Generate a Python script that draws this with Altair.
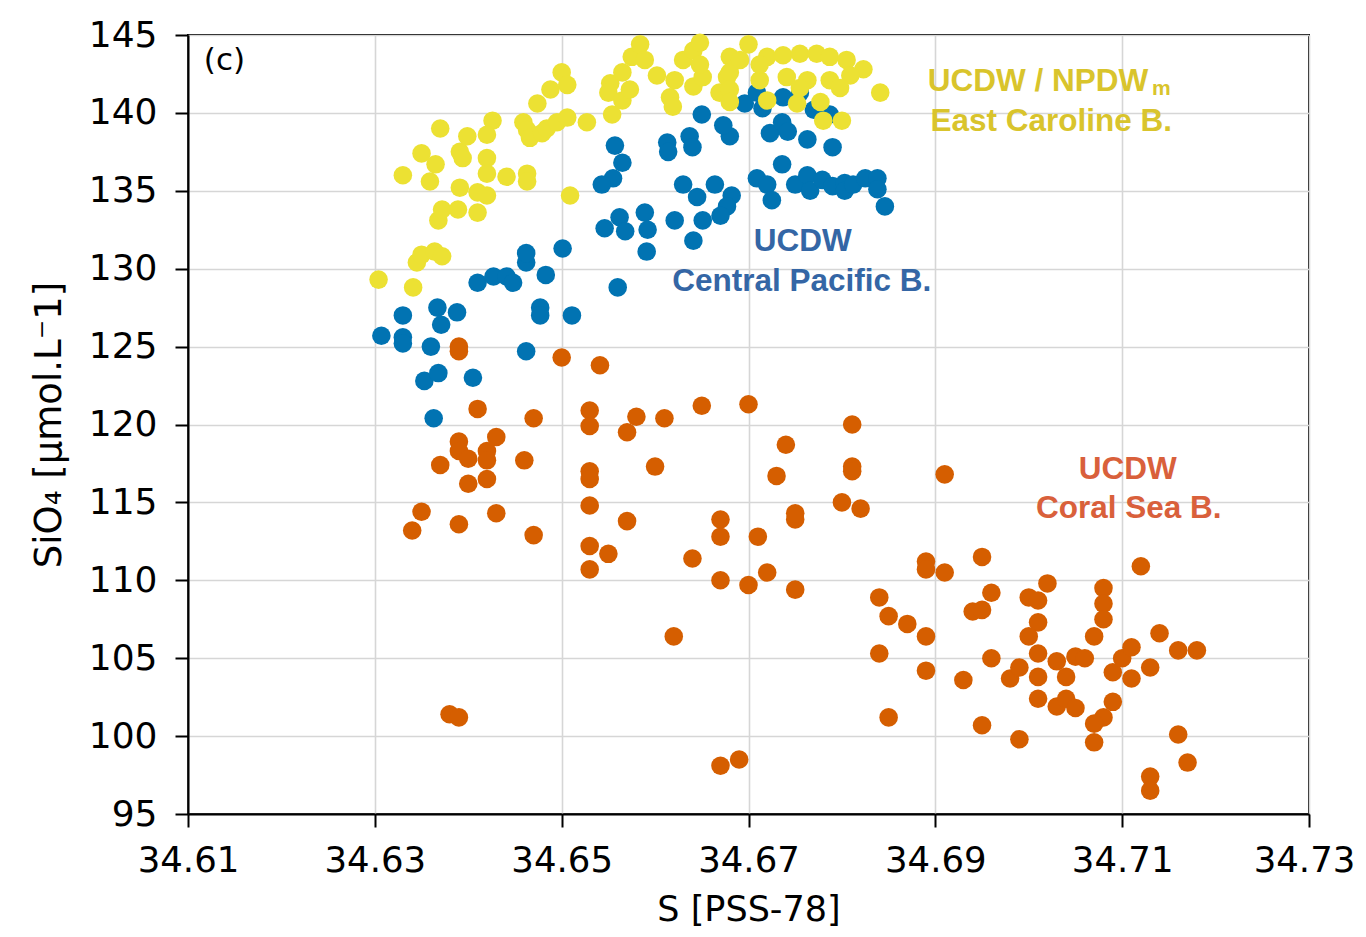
import altair as alt
import pandas as pd

# Coral Sea Basin (orange)
coral_s = [34.639, 34.639, 34.650, 34.6541, 34.641, 34.647, 34.653, 34.653, 34.658, 34.657,
           34.661, 34.665, 34.670, 34.6811, 34.674, 34.673, 34.6811, 34.6811, 34.691, 34.639,
           34.639, 34.640, 34.637, 34.642, 34.642, 34.643, 34.640, 34.642, 34.646, 34.653,
           34.653, 34.660, 34.635, 34.634, 34.639, 34.643, 34.647, 34.653, 34.653, 34.655,
           34.653, 34.657, 34.664, 34.667, 34.667, 34.671, 34.675, 34.675, 34.680, 34.682,
           34.667, 34.670, 34.672, 34.675, 34.662, 34.667, 34.669, 34.638, 34.639,
           34.689, 34.689, 34.691, 34.695, 34.684, 34.685, 34.687, 34.689, 34.684, 34.689,
           34.685, 34.693, 34.695, 34.696, 34.694, 34.695, 34.696, 34.699, 34.698, 34.699,
           34.700, 34.701, 34.702, 34.701, 34.700, 34.701, 34.701, 34.701, 34.703, 34.704,
           34.705, 34.706, 34.703, 34.704, 34.705, 34.708, 34.708, 34.708, 34.707, 34.709,
           34.709, 34.708, 34.707, 34.707, 34.710, 34.711, 34.711, 34.712, 34.713, 34.714,
           34.716, 34.718, 34.716, 34.717, 34.713, 34.713]
coral_si = [125.0, 124.7, 124.3, 123.8, 121.0, 120.4, 120.9, 119.9, 120.5, 119.5,
            120.4, 121.2, 121.3, 120.0, 118.7, 116.7, 117.3, 117.0, 116.8, 118.9,
            118.3, 117.8, 117.4, 118.3, 117.7, 119.2, 116.2, 116.5, 117.7, 117.0,
            116.5, 117.3, 114.4, 113.2, 113.6, 114.3, 112.9, 114.8, 112.2, 111.7,
            110.7, 113.8, 111.4, 113.9, 112.8, 112.8, 113.9, 114.3, 115.0, 114.6,
            110.0, 109.7, 110.5, 109.4, 106.4, 98.1, 98.5, 101.4, 101.2,
            111.2, 110.7, 110.5, 111.5, 108.9, 107.7, 107.2, 106.4, 105.3, 104.2,
            101.2, 103.6, 100.7, 105.0, 108.0, 108.1, 109.2, 99.8, 103.7, 104.4,
            108.9, 108.7, 109.8, 107.3, 106.4, 105.3, 103.8, 102.4, 104.8, 103.8,
            105.1, 105.0, 101.9, 102.4, 101.8, 109.5, 108.5, 107.5, 106.4, 104.1,
            102.2, 101.2, 100.8, 99.6, 105.0, 105.7, 103.7, 110.9, 104.4, 106.6,
            105.5, 105.5, 100.1, 98.3, 97.4, 96.5]

# Central Pacific Basin (blue)
central_s = [34.6307, 34.633, 34.633, 34.633, 34.6367, 34.6371, 34.6388, 34.636, 34.6353, 34.6368,
             34.6405, 34.6363, 34.641, 34.6427, 34.6441, 34.6448, 34.6462, 34.6462, 34.6483, 34.6477,
             34.6477, 34.6462, 34.6501, 34.656, 34.6511, 34.6557, 34.6565, 34.6555, 34.6543, 34.6613,
             34.6614, 34.6637, 34.664, 34.668, 34.663, 34.6645, 34.6664, 34.6682, 34.6677, 34.667,
             34.6651, 34.6621, 34.6641, 34.6546, 34.6562, 34.6568, 34.6589, 34.6592, 34.6591, 34.6709,
             34.672, 34.6725, 34.6736, 34.675, 34.6763, 34.6766, 34.6779, 34.679, 34.6803, 34.6803,
             34.6812, 34.6825, 34.6838, 34.6838, 34.6846, 34.679, 34.6763, 34.665, 34.6673, 34.6696,
             34.6709, 34.6715, 34.6723, 34.6736, 34.6742, 34.6737, 34.6755, 34.6787, 34.677]
central_si = [125.7, 127.0, 125.6, 125.2, 127.5, 126.4, 127.2, 125.0, 122.8, 123.3,
              123.0, 120.4, 129.1, 129.5, 129.5, 129.1, 130.4, 131.0, 129.6, 127.5,
              127.0, 124.7, 131.3, 128.8, 127.0, 137.9, 136.8, 135.8, 135.4, 138.1,
              137.5, 138.5, 137.8, 138.5, 135.4, 134.6, 135.4, 134.7, 134.0, 133.4,
              133.1, 133.1, 131.8, 132.6, 133.3, 132.4, 133.6, 132.5, 131.1, 135.8,
              135.4, 134.4, 136.7, 135.4, 136.0, 135.0, 135.7, 135.3, 135.5, 135.0,
              135.4, 135.8, 135.8, 135.1, 134.0, 137.8, 138.3, 139.9, 139.2, 140.6,
              141.3, 140.3, 138.7, 139.4, 138.8, 141.0, 141.3, 139.9, 140.2]

# East Caroline Basin (yellow)
caroline_s = [34.6304, 34.6341, 34.6345, 34.635, 34.6364, 34.6372, 34.633, 34.635, 34.637, 34.6365,
              34.6359, 34.6368, 34.6372, 34.6389, 34.6391, 34.6391, 34.6399, 34.6394, 34.641, 34.641,
              34.642, 34.642, 34.642, 34.6426, 34.642, 34.6441, 34.6463, 34.6463, 34.6459, 34.6463,
              34.6466, 34.6479, 34.6484, 34.6495, 34.6506, 34.6474, 34.6488, 34.650, 34.6506, 34.6509,
              34.6527, 34.6554, 34.6552, 34.655, 34.6565, 34.6565, 34.6575, 34.6584, 34.6573, 34.6602,
              34.6616, 34.6619, 34.6621, 34.663, 34.6641, 34.6648, 34.6641, 34.6651, 34.6669, 34.6677,
              34.668, 34.670, 34.668, 34.668, 34.668, 34.672, 34.6737, 34.6755, 34.6773, 34.6787,
              34.6805, 34.6823, 34.6841, 34.672, 34.6752, 34.6777, 34.678, 34.680, 34.6712, 34.6741,
              34.6763, 34.6787, 34.6589, 34.6648, 34.6691, 34.6712, 34.6809, 34.6798, 34.6755]
caroline_si = [129.3, 128.8, 130.4, 130.9, 131.1, 130.8, 136.0, 137.4, 139.0, 136.7,
               135.6, 133.1, 133.8, 133.8, 135.2, 137.5, 138.5, 137.1, 133.6, 134.9,
               137.1, 136.1, 134.7, 139.5, 138.6, 135.9, 136.1, 135.6, 139.4, 138.9,
               138.4, 138.7, 139.0, 139.4, 139.7, 140.6, 141.5, 142.6, 141.8, 134.7,
               139.4, 139.9, 141.9, 141.3, 142.6, 140.8, 143.6, 144.4, 141.5, 142.4,
               141.0, 140.4, 142.1, 143.4, 144.0, 144.5, 141.7, 142.3, 141.3, 142.3,
               143.6, 144.4, 142.6, 141.5, 140.7, 143.6, 143.7, 143.8, 143.8, 143.6,
               143.4, 142.8, 141.3, 140.8, 140.6, 140.7, 139.5, 139.5, 142.1, 142.3,
               142.1, 142.1, 143.4, 143.1, 143.4, 143.1, 142.4, 141.6, 141.6]

groups = ["Coral Sea B.", "Central Pacific B.", "East Caroline B."]
point_colors = ["#d55e00", "#0173b2", "#ece133"]

x_ticks = [34.61, 34.63, 34.65, 34.67, 34.69, 34.71, 34.73]
y_ticks = [95, 100, 105, 110, 115, 120, 125, 130, 135, 140, 145]

rows = []
for g, ss, vv in zip(groups, [coral_s, central_s, caroline_s], [coral_si, central_si, caroline_si]):
    for s, v in zip(ss, vv):
        rows.append({"S": s, "SiO4": v, "basin": g})
df = pd.DataFrame(rows)

# annotations
ann_text = ["UCDW / NPDW", "East Caroline B.", "UCDW", "Central Pacific B.", "UCDW", "Coral Sea B."]
ann_x = [34.7010, 34.7024, 34.6758, 34.6757, 34.7106, 34.7107]
ann_y = [141.98, 139.42, 131.7, 129.15, 117.1, 114.6]
ann_col = ["#d9c42c", "#d9c42c", "#3466a5", "#3466a5", "#d9603b", "#d9603b"]
ann = pd.DataFrame({"t": ann_text, "x": ann_x, "y": ann_y, "c": ann_col})

xs = alt.Scale(domain=[34.61, 34.73], nice=False, zero=False)
ys = alt.Scale(domain=[95, 145], nice=False, zero=False)

axis_common = dict(
    labelFont="DejaVu Sans", labelColor="black",
    titleFont="DejaVu Sans", titleFontWeight="normal", titleColor="black",
    domainColor="black", domainWidth=2, tickColor="black", tickWidth=2, tickSize=13,
    gridColor="#d6d6d6", gridWidth=1.6,
)

points = alt.Chart(df).mark_circle(size=345, opacity=1).encode(
    x=alt.X("S:Q", scale=xs, title="S [PSS-78]",
            axis=alt.Axis(values=x_ticks, format=".2f", labelPadding=16, titlePadding=14,
                          labelOffset={"condition": {"test": "datum.value > 34.72", "value": -5}, "value": 0},
                          labelFontSize=35.5, titleFontSize=35, labelFlush=False, **axis_common)),
    y=alt.Y("SiO4:Q", scale=ys, title="SiO₄ [μmol.L⁻1]",
            axis=alt.Axis(values=y_ticks, format="d", labelPadding=18, titlePadding=20,
                          labelFontSize=36, titleFontSize=37, labelFlush=False, **axis_common)),
    color=alt.Color("basin:N", scale=alt.Scale(domain=groups, range=point_colors), legend=None),
)

labels = alt.Chart(ann).mark_text(font="Liberation Sans", fontWeight="bold", fontSize=31.5,
                                  baseline="middle", align="center").encode(
    x=alt.X("x:Q", scale=xs), y=alt.Y("y:Q", scale=ys),
    text="t:N", color=alt.Color("c:N", scale=None),
)

sub = alt.Chart(pd.DataFrame({"t": ["m"], "x": [34.7132], "y": [141.55]})).mark_text(
    font="Liberation Sans", fontWeight="bold", fontSize=21, color="#d9c42c",
    baseline="middle", align="left").encode(
    x=alt.X("x:Q", scale=xs), y=alt.Y("y:Q", scale=ys), text="t:N")

panel = alt.Chart(pd.DataFrame({"t": ["(c)"], "x": [34.6139], "y": [143.35]})).mark_text(
    font="DejaVu Sans", fontSize=31, color="black", baseline="middle", align="center").encode(
    x=alt.X("x:Q", scale=xs), y=alt.Y("y:Q", scale=ys), text="t:N")

chart = alt.layer(points, labels, sub, panel).properties(
    width=1121, height=779,
    autosize=alt.AutoSizeParams(type="none"),
    padding={"left": 180, "top": 27, "right": 49, "bottom": 118},
    background="white",
).configure_view(stroke="black", strokeWidth=2)

chart.save("out.html", embed_options={"renderer": "svg", "actions": False})
